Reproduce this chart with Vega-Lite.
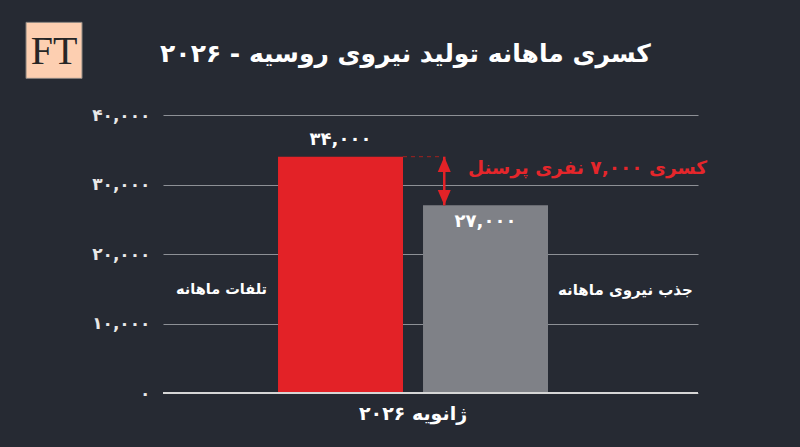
{
  "$schema": "https://vega.github.io/schema/vega-lite/v6.json",
  "background": "#262a33",
  "autosize": {"type": "none"},
  "padding": {"top": 115, "left": 163, "right": 102, "bottom": 54},
  "width": 535,
  "height": 278,
  "config": {"view": {"stroke": null}, "font": "DejaVu Sans"},
  "datasets": {
    "bars": [
      {"key": "loss", "label": "تلفات ماهانه", "value": 34000, "text": "۳۴,۰۰۰"},
      {"key": "gain", "label": "جذب نیروی ماهانه", "value": 27000, "text": "۲۷,۰۰۰"}
    ],
    "gap": [
      {"key": "gain", "from": "loss", "top": 34000, "bottom": 27000, "base": 0,
       "note": "کسری ۷,۰۰۰ نفری پرسنل", "month": "ژانویه ۲۰۲۶"}
    ],
    "header": [
      {"key": "loss", "level": 49300, "logo": "FT",
       "title": "کسری ماهانه تولید نیروی روسیه - ۲۰۲۶"}
    ]
  },
  "layer": [
    {
      "data": {"name": "bars"},
      "mark": {"type": "bar"},
      "encoding": {
        "x": {
          "field": "key", "type": "nominal", "sort": ["loss", "gain"],
          "scale": {"domain": ["loss", "gain"], "paddingInner": 0.138, "paddingOuter": 0.9138, "align": 0.434},
          "axis": null
        },
        "y": {
          "field": "value", "type": "quantitative", "title": null,
          "scale": {"domain": [0, 40000], "nice": false},
          "axis": {
            "values": [0, 10000, 20000, 30000, 40000],
            "format": ",d",
            "labelExpr": "replace(replace(replace(replace(replace(datum.label, regexp('0','g'), '۰'), regexp('1','g'), '۱'), regexp('2','g'), '۲'), regexp('3','g'), '۳'), regexp('4','g'), '۴')",
            "domain": false,
            "ticks": false,
            "grid": true,
            "gridColor": "#8d9096",
            "gridWidth": 1.2,
            "labelColor": "#e8e8e8",
            "labelFont": "DejaVu Sans",
            "labelFontSize": 17,
            "labelFontWeight": "bold",
            "labelPadding": 13
          }
        },
        "color": {
          "field": "key", "type": "nominal",
          "scale": {"domain": ["loss", "gain"], "range": ["#e32227", "#7f8187"]},
          "legend": null
        }
      }
    },
    {
      "data": {"name": "gap"},
      "mark": {"type": "rule", "color": "#d6d6d6", "strokeWidth": 2},
      "encoding": {"y": {"field": "base", "type": "quantitative", "title": null}}
    },
    {
      "data": {"name": "bars"},
      "transform": [{"filter": "datum.key == 'loss'"}],
      "mark": {"type": "text", "color": "#ffffff", "fontSize": 18, "fontWeight": "bold", "baseline": "middle", "dy": -17},
      "encoding": {
        "x": {"field": "key", "type": "nominal"},
        "y": {"field": "value", "type": "quantitative", "title": null},
        "text": {"field": "text"}
      }
    },
    {
      "data": {"name": "bars"},
      "transform": [{"filter": "datum.key == 'gain'"}],
      "mark": {"type": "text", "color": "#ffffff", "fontSize": 18, "fontWeight": "bold", "baseline": "middle", "dy": 17},
      "encoding": {
        "x": {"field": "key", "type": "nominal"},
        "y": {"field": "value", "type": "quantitative", "title": null},
        "text": {"field": "text"}
      }
    },
    {
      "data": {"name": "bars"},
      "transform": [{"filter": "datum.key == 'loss'"}],
      "mark": {"type": "text", "color": "#ffffff", "fontSize": 14.5, "fontWeight": "bold", "align": "right", "baseline": "middle", "dx": -11},
      "encoding": {
        "x": {"field": "key", "type": "nominal", "bandPosition": 0},
        "y": {"datum": 14800, "type": "quantitative"},
        "text": {"field": "label"}
      }
    },
    {
      "data": {"name": "bars"},
      "transform": [{"filter": "datum.key == 'gain'"}],
      "mark": {"type": "text", "color": "#ffffff", "fontSize": 15, "fontWeight": "bold", "align": "left", "baseline": "middle", "dx": 10},
      "encoding": {
        "x": {"field": "key", "type": "nominal", "bandPosition": 1},
        "y": {"datum": 14800, "type": "quantitative"},
        "text": {"field": "label"}
      }
    },
    {
      "data": {"name": "gap"},
      "mark": {"type": "rule", "color": "#a3201f", "strokeWidth": 1, "strokeDash": [4, 4]},
      "encoding": {
        "x": {"field": "from", "type": "nominal", "bandPosition": 1},
        "x2": {"field": "key", "bandPosition": 0.14},
        "y": {"field": "top", "type": "quantitative", "title": null}
      }
    },
    {
      "data": {"name": "gap"},
      "mark": {"type": "rule", "color": "#e32227", "strokeWidth": 2.5},
      "encoding": {
        "x": {"field": "key", "type": "nominal", "bandPosition": 0.17},
        "y": {"field": "top", "type": "quantitative", "title": null},
        "y2": {"field": "bottom"}
      }
    },
    {
      "data": {"name": "gap"},
      "mark": {"type": "point", "shape": "M0,0L0.85,2L-0.85,2Z", "size": 234, "filled": true, "opacity": 1, "color": "#e32227", "strokeWidth": 0},
      "encoding": {
        "x": {"field": "key", "type": "nominal", "bandPosition": 0.17},
        "y": {"field": "top", "type": "quantitative", "title": null}
      }
    },
    {
      "data": {"name": "gap"},
      "mark": {"type": "point", "shape": "M0,0L0.85,-2L-0.85,-2Z", "size": 234, "filled": true, "opacity": 1, "color": "#e32227", "strokeWidth": 0},
      "encoding": {
        "x": {"field": "key", "type": "nominal", "bandPosition": 0.17},
        "y": {"field": "bottom", "type": "quantitative", "title": null}
      }
    },
    {
      "data": {"name": "gap"},
      "mark": {"type": "text", "color": "#e5262b", "fontSize": 18.5, "fontWeight": "bold", "align": "left", "baseline": "middle", "dx": 45, "dy": 11},
      "encoding": {
        "x": {"field": "key", "type": "nominal", "bandPosition": 0},
        "y": {"field": "top", "type": "quantitative", "title": null},
        "text": {"field": "note"}
      }
    },
    {
      "data": {"name": "gap"},
      "mark": {"type": "text", "color": "#ffffff", "fontSize": 19, "fontWeight": "bold", "align": "center", "baseline": "middle", "dx": -10, "dy": 21},
      "encoding": {
        "x": {"field": "key", "type": "nominal", "bandPosition": 0},
        "y": {"field": "base", "type": "quantitative", "title": null},
        "text": {"field": "month"}
      }
    },
    {
      "data": {"name": "header"},
      "mark": {"type": "point", "shape": "square", "size": 3136, "filled": true, "opacity": 1, "fill": "#fdcfb1", "stroke": "#8c8580", "strokeWidth": 1},
      "encoding": {
        "x": {"field": "key", "type": "nominal", "bandPosition": -1.792},
        "y": {"field": "level", "type": "quantitative", "title": null}
      }
    },
    {
      "data": {"name": "header"},
      "mark": {"type": "text", "font": "Liberation Serif", "fontSize": 40, "color": "#262626", "baseline": "middle", "dy": 2},
      "encoding": {
        "x": {"field": "key", "type": "nominal", "bandPosition": -1.792},
        "y": {"field": "level", "type": "quantitative", "title": null},
        "text": {"field": "logo"}
      }
    },
    {
      "data": {"name": "header"},
      "mark": {"type": "text", "color": "#ffffff", "fontSize": 25, "fontWeight": "bold", "align": "center", "baseline": "middle", "dy": 4},
      "encoding": {
        "x": {"field": "key", "type": "nominal", "bandPosition": 1.02},
        "y": {"field": "level", "type": "quantitative", "title": null},
        "text": {"field": "title"}
      }
    }
  ]
}
